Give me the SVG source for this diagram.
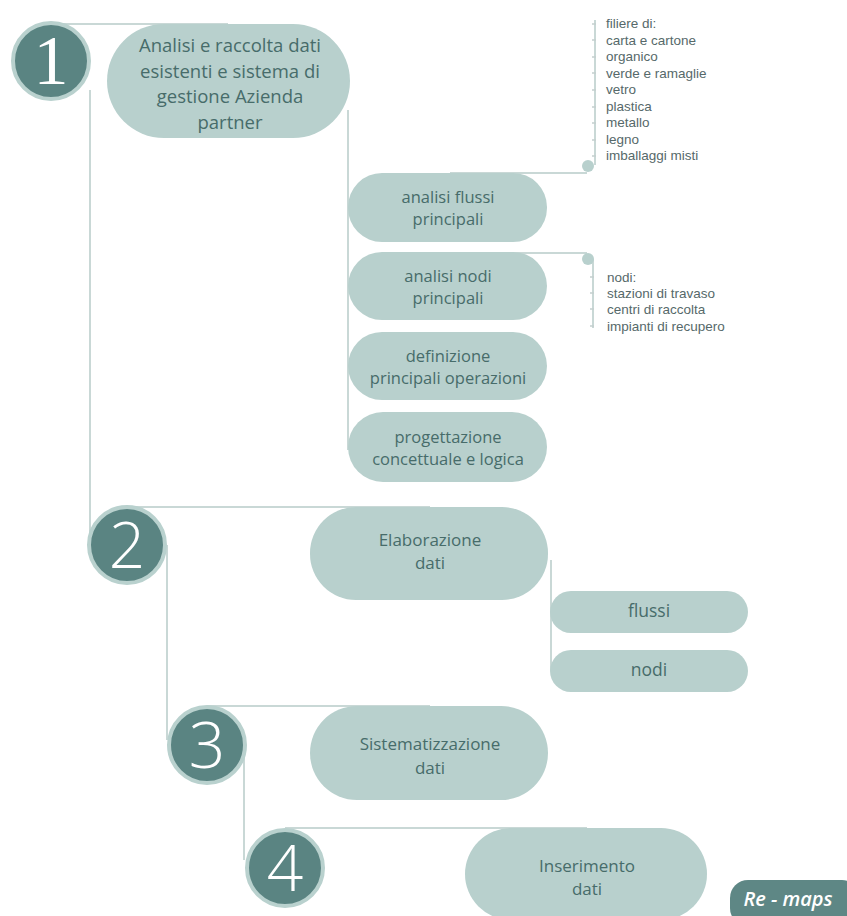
<svg xmlns="http://www.w3.org/2000/svg" width="847" height="916" viewBox="0 0 847 916">
<style>
.bg{fill:#ffffff}
.ln{stroke:#c9d8d6;stroke-width:2;fill:none}
.nd{fill:#b8d0cd}
.t{font-family:"Open Sans","Noto Sans",sans-serif;fill:#476c6a;text-anchor:middle}
.t1{font-size:18.5px}
.t2{font-size:16.5px}
.t3{font-size:17px}
.li{font-family:"Liberation Sans","Noto Sans",sans-serif;font-size:13.5px;fill:#56696a}
.circ{fill:#5a8482;stroke:#b9d1ce;stroke-width:4}
.dig{font-family:"Open Sans","DejaVu Sans",sans-serif;font-weight:300;font-size:64px;fill:#ffffff;text-anchor:middle}
.tick{stroke:#c3cfce;stroke-width:1.5}
.dot{fill:#b8d0cd}
</style>
<rect class="bg" x="0" y="0" width="847" height="916"/>
<g id="connectors">
<path class="ln" d="M51 24 H228"/>
<path class="ln" d="M90 90 V535"/>
<path class="ln" d="M348 110 V450"/>
<path class="ln" d="M450 173 H587"/>
<path class="ln" d="M450 253 H587"/>
<path class="ln" d="M595 20 V165"/>
<path class="ln" d="M593 259 V328"/>
<circle class="dot" cx="588" cy="166" r="6"/>
<circle class="dot" cx="588" cy="259" r="6"/>
<path class="ln" d="M127 507 H430"/>
<path class="ln" d="M167 545 V740"/>
<path class="ln" d="M551 560 V670"/>
<path class="ln" d="M207 706 H430"/>
<path class="ln" d="M244 745 V860"/>
<path class="ln" d="M285 828 H587"/>
</g>
<g id="step1">
<circle class="circ" cx="51" cy="61" r="38"/>
<text x="51" y="84" font-family="Liberation Serif, DejaVu Serif, serif" font-size="70" fill="#ffffff" text-anchor="middle">1</text>
</g>
<g id="node1">
<rect class="nd" x="107" y="24" width="243" height="114" rx="57"/>
<text class="t t1" x="230" y="52">Analisi e raccolta dati</text>
<text class="t t1" x="230" y="77.5">esistenti e sistema di</text>
<text class="t t1" x="230" y="103">gestione Azienda</text>
<text class="t t1" x="230" y="128.5">partner</text>
</g>
<g id="flussi_principali">
<rect class="nd" x="348" y="173" width="199" height="69" rx="34"/>
<text class="t t2" x="448" y="203">analisi flussi</text>
<text class="t t2" x="448" y="225">principali</text>
</g>
<g id="nodi_principali">
<rect class="nd" x="348" y="252" width="199" height="68" rx="34"/>
<text class="t t2" x="448" y="282">analisi nodi</text>
<text class="t t2" x="448" y="304">principali</text>
</g>
<g id="definizione">
<rect class="nd" x="348" y="332" width="199" height="68" rx="34"/>
<text class="t t2" x="448" y="362">definizione</text>
<text class="t t2" x="448" y="384">principali operazioni</text>
</g>
<g id="progettazione">
<rect class="nd" x="348" y="412" width="199" height="70" rx="35"/>
<text class="t t2" x="448" y="443">progettazione</text>
<text class="t t2" x="448" y="465">concettuale e logica</text>
</g>
<g id="list_filiere">
<g class="tick">
<path d="M592 24 h4"/><path d="M592 40 h4"/><path d="M592 57 h4"/><path d="M592 73 h4"/><path d="M592 90 h4"/><path d="M592 107 h4"/><path d="M592 123 h4"/><path d="M592 140 h4"/><path d="M592 156 h4"/>
</g>
<text class="li" x="606" y="28">filiere di:</text>
<text class="li" x="606" y="44.5">carta e cartone</text>
<text class="li" x="606" y="61">organico</text>
<text class="li" x="606" y="77.5">verde e ramaglie</text>
<text class="li" x="606" y="94">vetro</text>
<text class="li" x="606" y="110.5">plastica</text>
<text class="li" x="606" y="127">metallo</text>
<text class="li" x="606" y="143.5">legno</text>
<text class="li" x="606" y="160">imballaggi misti</text>
</g>
<g id="list_nodi">
<g class="tick">
<path d="M590 277 h4"/><path d="M590 293 h4"/><path d="M590 309 h4"/><path d="M590 326 h4"/>
</g>
<text class="li" x="607" y="281.5">nodi:</text>
<text class="li" x="607" y="297.5">stazioni di travaso</text>
<text class="li" x="607" y="314">centri di raccolta</text>
<text class="li" x="607" y="330.5">impianti di recupero</text>
</g>
<g id="step2">
<circle class="circ" cx="127" cy="545" r="38"/>
<text class="dig" x="127" y="568">2</text>
</g>
<g id="node2">
<rect class="nd" x="310" y="507" width="238" height="93" rx="46"/>
<text class="t t3" x="430" y="546">Elaborazione</text>
<text class="t t3" x="430" y="569">dati</text>
</g>
<g id="flussi">
<rect class="nd" x="550" y="591" width="198" height="42" rx="21"/>
<text class="t" x="649" y="617" font-size="17.5">flussi</text>
</g>
<g id="nodi">
<rect class="nd" x="550" y="650" width="198" height="42" rx="21"/>
<text class="t" x="649" y="676" font-size="17.5">nodi</text>
</g>
<g id="step3">
<circle class="circ" cx="207" cy="745" r="38"/>
<text class="dig" x="207" y="768">3</text>
</g>
<g id="node3">
<rect class="nd" x="310" y="706" width="238" height="94" rx="47"/>
<text class="t t3" x="430" y="750">Sistematizzazione</text>
<text class="t t3" x="430" y="774">dati</text>
</g>
<g id="step4">
<circle class="circ" cx="285" cy="868" r="38"/>
<text class="dig" x="285" y="891">4</text>
</g>
<g id="node4">
<rect class="nd" x="465" y="828" width="242" height="92" rx="46"/>
<text class="t t3" x="587" y="872">Inserimento</text>
<text class="t t3" x="587" y="895">dati</text>
</g>
<g id="badge">
<rect x="730" y="880" width="130" height="46" rx="18" fill="#5e8785"/>
<text x="788" y="906" font-family="Open Sans, Noto Sans, sans-serif" font-style="italic" font-weight="600" font-size="20" fill="#ffffff" text-anchor="middle">Re - maps</text>
</g>
</svg>
